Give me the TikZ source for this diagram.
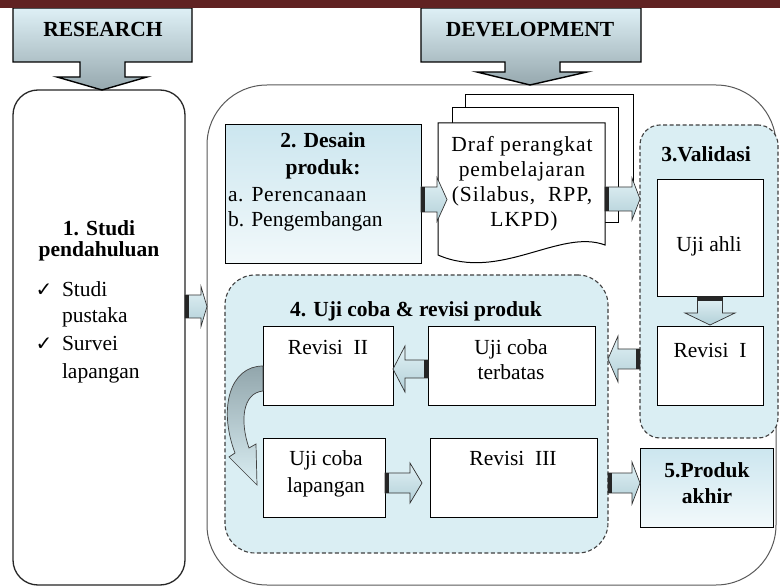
\documentclass[tikz,border=0pt]{standalone}
\usepackage{fontspec}
\setmainfont{Liberation Serif}
\newfontfamily\spreadfont{Liberation Serif}[LetterSpace=4.5]
\newfontfamily\lightspread{Liberation Serif}[LetterSpace=3]
\newfontfamily\symfont{DejaVu Sans}
\usetikzlibrary{calc}

\definecolor{barred}{RGB}{96,34,34}
\definecolor{paleaqua}{RGB}{218,238,243}
\definecolor{boxtop}{RGB}{204,230,239}
\definecolor{boxbot}{RGB}{242,249,251}
\definecolor{callouttop}{RGB}{222,240,246}
\definecolor{calloutgray}{RGB}{150,168,174}
\definecolor{arrowtop}{RGB}{226,241,245}
\definecolor{arrowbot}{RGB}{178,208,216}
\definecolor{curvetop}{RGB}{146,166,172}

\tikzset{
  pics/blockarrow/.style n args={4}{code={
    \path[arrowbody] (0,-#2) -- ({#1-#4},-#2) -- ({#1-#4},-#3) -- (#1,0)
      -- ({#1-#4},#3) -- ({#1-#4},#2) -- (0,#2) -- cycle;
    \fill[black!85] (0,-#2) rectangle (4,#2);
  }}
}
% block arrow from a tail point to a tip point: shaft half width, head half width, head length
\newcommand\linkarrow[5]{%
  \path let \p1=#1, \p2=#2,
            \n1={atan2(\y2-\y1,\x2-\x1)}, \n2={veclen(\x2-\x1,\y2-\y1)} in
    pic[rotate=\n1] at (\p1) {blockarrow={\n2}{#3}{#4}{#5}};
}

\begin{document}
\begin{tikzpicture}[x=1pt,y=-1pt,
  every node/.style={inner sep=0pt, outer sep=0pt},
  txt/.style={font=\fontsize{21.5}{25}\selectfont, anchor=base},
  ttl/.style={font=\bfseries\fontsize{21.5}{25}\selectfont, anchor=base},
  whitebox/.style={draw=black, line width=1pt, fill=white, anchor=north west},
  dashbox/.style={draw=black!75, line width=1.1pt, dash pattern=on 4pt off 2.5pt,
                  fill=paleaqua, anchor=north west},
  arrowbody/.style={draw=black!80, line width=0.7pt, top color=arrowtop, bottom color=arrowbot},
  callout/.style={draw=black, line width=1.4pt, top color=callouttop, bottom color=calloutgray},
  tick/.style={font=\symfont\fontsize{20}{22}\selectfont, anchor=base},
]
\useasboundingbox (0,0) rectangle (780,588);

% development frame and research column
\node[draw=black!65, line width=1pt, rounded corners=60pt, fill=white,
      minimum width=569pt, minimum height=500pt, anchor=north west] (dev) at (207,85) {};
\node[draw=black!85, line width=1.3pt, rounded corners=25pt,
      top color=white, middle color=paleaqua, bottom color=white,
      minimum width=172pt, minimum height=495pt, anchor=north west] (studi) at (13,90) {};

% phase callouts
\path[callout] (13,8) -- (192,8) -- (192,62) -- (125,62) -- (125,77) -- (147,77)
  -- (102,90) -- (57,77) -- (80,77) -- (80,62) -- (13,62) -- cycle;
\path[callout] (421,8) -- (641,8) -- (641,62) -- (560,62) -- (560,72) -- (587,72)
  -- (530,85) -- (477,72) -- (505,72) -- (505,62) -- (421,62) -- cycle;
\node[ttl] (research) at (103,37) {RESEARCH};
\node[ttl] (development) at (530,37) {DEVELOPMENT};
\fill[barred] (0,0) rectangle (780,8);

% 1. preliminary study
\node[ttl] (studiT1) at (99,236) {1. Studi};
\node[ttl] (studiT2) at (99,257) {pendahuluan};
\node[tick] (chk1) at (44,297) {✓};
\node[tick] (chk2) at (44,351) {✓};
\node[txt, anchor=base west] (item1) at (62,297) {Studi};
\node[txt, anchor=base west] (item2) at (62,323) {pustaka};
\node[txt, anchor=base west] (item3) at (62,351) {Survei};
\node[txt, anchor=base west] (item4) at (62,378) {lapangan};

% 2. product design
\node[draw=black, line width=1pt, top color=boxtop, bottom color=boxbot,
      minimum width=196pt, minimum height=139pt, anchor=north west] (desain) at (225,125) {};
\node[ttl] (desainT1) at (323,148) {2. Desain};
\node[ttl] (desainT2) at (323,175) {produk:};
\node[txt, anchor=base west, font=\lightspread\fontsize{21.5}{25}\selectfont] (desainL1) at (228,202) {a. Perencanaan};
\node[txt, anchor=base west] (desainL2) at (228,227) {b. Pengembangan};

% draft documents (stacked pages)
\draw[fill=white, line width=1pt] (465,95) rectangle (633,208);
\draw[fill=white, line width=1pt] (452,108) rectangle (618,223);
\node[minimum width=167pt, minimum height=132pt, anchor=north west] (draf) at (438,123) {};
\draw[fill=white, line width=1pt] (draf.north west) -- (draf.north east) -- (605,245)
  .. controls (560,228) and (500,282) .. (438,255) -- cycle;
\begin{scope}[every node/.append style={txt, font=\spreadfont\fontsize{21.5}{25}\selectfont}]
\node (draf1) at (522,152) {Draf perangkat};
\node (draf2) at (522,177) {pembelajaran};
\node (draf3) at (522,202) {(Silabus,\ \ RPP,};
\node (draf4) at (524,227) {LKPD)};
\end{scope}

% 3. validation
\node[dashbox, rounded corners=20pt, minimum width=138pt, minimum height=313pt] (valid) at (640,125) {};
\node[ttl] (validT) at (706,162) {3.Validasi};
\node[whitebox, minimum width=106pt, minimum height=117pt] (ahli) at (657,180) {};
\node[txt] (ahliT) at (709,252) {Uji ahli};
\node[whitebox, minimum width=106pt, minimum height=78pt] (rev1) at (657,327) {};
\node[txt] (rev1T) at (710,358) {Revisi\ \ I};

% 4. trials and product revision
\node[dashbox, rounded corners=30pt, minimum width=383pt, minimum height=278pt] (trial) at (225,275) {};
\node[ttl] (trialT) at (416,317) {4. Uji coba \& revisi produk};
\node[whitebox, minimum width=130pt, minimum height=78pt] (rev2) at (263,327) {};
\node[txt] (rev2T) at (328,355) {Revisi\ \ II};
\node[whitebox, minimum width=167pt, minimum height=78pt] (terbatas) at (428,327) {};
\node[txt] (terbatasT1) at (511,355) {Uji\ coba};
\node[txt] (terbatasT2) at (511,380) {terbatas};
\node[whitebox, minimum width=122pt, minimum height=79pt] (lapangan) at (263,438) {};
\node[txt] (lapanganT1) at (326,465) {Uji\ coba};
\node[txt] (lapanganT2) at (326,492) {lapangan};
\node[whitebox, minimum width=167pt, minimum height=79pt] (rev3) at (430,438) {};
\node[txt] (rev3T) at (513,465) {Revisi\ \ III};

% 5. final product
\node[draw=black, line width=1pt, top color=boxtop, bottom color=boxbot,
      minimum width=133pt, minimum height=79pt, anchor=north west] (produk) at (640,448) {};
\node[ttl] (produkT1) at (707,477) {5.Produk};
\node[ttl] (produkT2) at (707,503) {akhir};

% connectors
\linkarrow{(studi.east |- 0,306.5)}{(dev.west |- 0,306.5)}{11.5}{20}{6}
\linkarrow{(desain.east |- 0,199.5)}{($(draf.west |- 0,199.5)+(9,0)$)}{12.5}{22}{10}
\linkarrow{(draf.east |- 0,199)}{(valid.west |- 0,199)}{12}{21}{8}
\linkarrow{(ahli.south)}{($(rev1.north)+(0,-2)$)}{12.5}{25}{12}
\linkarrow{(valid.west |- 0,359)}{(trial.east |- 0,359)}{10}{23}{10}
\linkarrow{(terbatas.west |- 0,369)}{(rev2.east |- 0,369)}{9}{23}{12}
\linkarrow{(lapangan.east |- 0,483)}{($(rev3.west |- 0,483)+(-8,0)$)}{10}{20}{12}
\linkarrow{(trial.east |- 0,483)}{(produk.west |- 0,483)}{10}{21}{8}

% curved arrow from Revisi II down to the field trial
\path[draw=black!75, line width=0.7pt, top color=curvetop, bottom color=paleaqua]
  (rev2.west |- 0,366) .. controls (230,366) and (218,408) .. (235,453)
  -- (229,457) -- (257,485) -- (256,444) -- (249,448)
  .. controls (240,422) and (242,393) .. (rev2.west |- 0,391) -- cycle;

\end{tikzpicture}
\end{document}
